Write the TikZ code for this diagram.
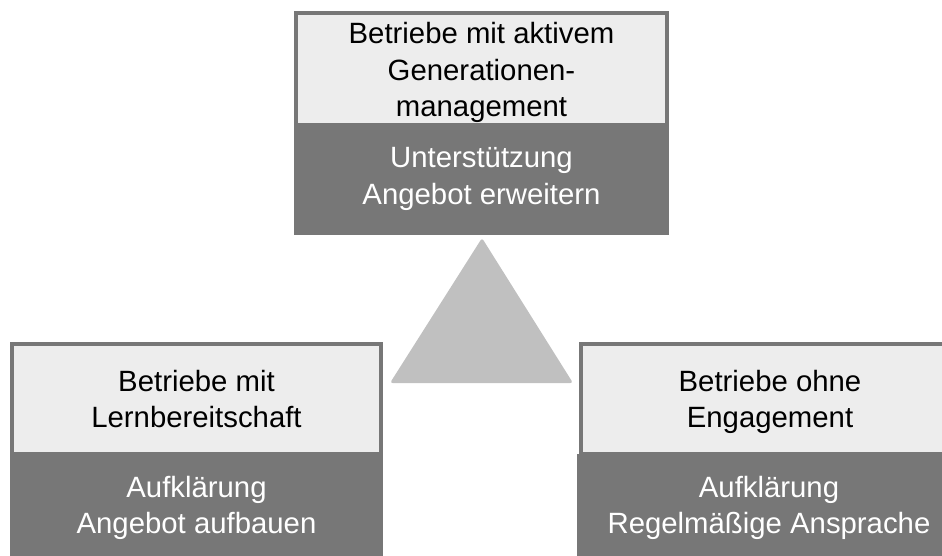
\documentclass[tikz,border=0pt]{standalone}
\usepackage{fontspec}
\setmainfont{Liberation Sans}
\usetikzlibrary{positioning}
\definecolor{boxdark}{RGB}{119,119,119}
\definecolor{boxlight}{RGB}{237,237,237}
\definecolor{trigray}{RGB}{192,192,192}
\tikzset{
    head/.style={rectangle, fill=boxlight, draw=boxdark, line width=3pt,
        inner sep=0pt, outer sep=0pt, align=center, text depth=0pt,
        font=\fontsize{22}{27.4}\selectfont},
    act/.style={rectangle, fill=boxdark, text=white, inner sep=0pt,
        outer sep=0pt, align=center, text depth=0pt,
        font=\fontsize{22}{27.4}\selectfont}
}
\begin{document}
\begin{tikzpicture}[x=0.75pt, y=-0.75pt]
    \useasboundingbox (0,0) rectangle (942,556);
    \clip (0,0) rectangle (942,556);
    % Dreieck in der Mitte
    \fill[trigray, rounded corners=2pt] (482,238) -- (573,383) -- (390,383) -- cycle;
    % Betriebe mit aktivem Generationenmanagement
    \node[act, text depth=3.5pt, minimum width=281.25pt, minimum height=84pt] (mgmtAct) at (481.5,178.5)
        {Unterstützung\\Angebot erweitern};
    \node[head, minimum width=278.25pt, minimum height=84pt] (mgmt) at (481.5,69.5)
        {Betriebe mit aktivem\\Generationen-\\management};
    % Betriebe mit Lernbereitschaft
    \node[head, minimum width=276.75pt, minimum height=82.5pt] (lern) at (196.5,399)
        {Betriebe mit\\Lernbereitschaft};
    \node[act, below=0pt of lern, minimum width=279.75pt, minimum height=76.5pt] (lernAct)
        {Aufklärung\\Angebot aufbauen};
    % Betriebe ohne Engagement
    \node[head, minimum width=283.5pt, minimum height=82.5pt] (ohne) at (770,399)
        {Betriebe ohne\\Engagement};
    \node[act, below=0pt of ohne, xshift=-0.75pt, minimum width=288pt, minimum height=76.5pt] (ohneAct)
        {Aufklärung\\Regelmäßige Ansprache};
\end{tikzpicture}
\end{document}
